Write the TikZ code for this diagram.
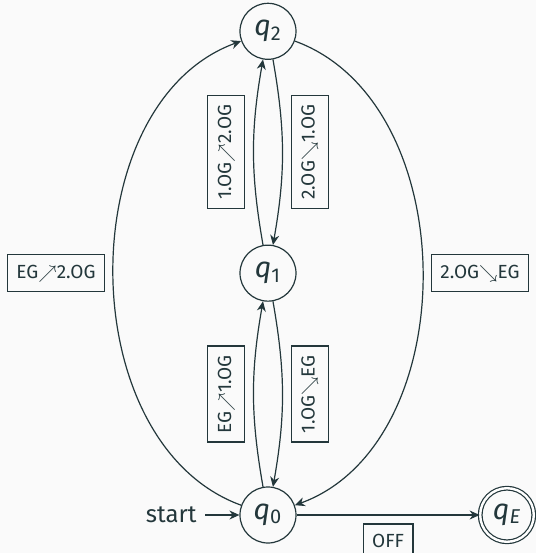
\documentclass[tikz,border=0pt,12pt]{standalone}
\usepackage{fontspec}
\setmainfont{Fira Sans}
\usetikzlibrary{arrows.meta}
\definecolor{mteal}{HTML}{23373B}
\definecolor{mbg}{HTML}{FAFAFA}

\begin{document}
\begin{tikzpicture}[>={Stealth[length=5pt, width=4.5pt]}, line width=0.6pt, draw=mteal, text=mteal,
    state/.style={circle, draw, minimum size=28pt, inner sep=0pt, font=\large},
    lbl/.style={draw, font=\fontsize{9.5}{11}\selectfont, inner xsep=4.5pt, inner ysep=5pt, outer sep=4.5pt}]

    \useasboundingbox[fill=mbg] (-134pt,-19pt) rectangle (134pt,257.5pt);

    \node[state] (q0) at (0, 0) {\textit{q}\textsubscript{0}};
    \node[state] (q1) at (0, 4.25) {\textit{q}\textsubscript{1}};
    \node[state] (q2) at (0, 8.5) {\textit{q}\textsubscript{2}};
    \node[state, double, double distance=1.2pt, minimum size=26.8pt] (qE) at (4.2, 0) {\textit{q}\textsubscript{\textit{E}}};
    \node (start) at (-1.7, 0) {start};

    \draw [->] (start) -- (q0);
    \draw [->] (q0) to[bend left=10] node[lbl, rotate=90, anchor=south] {EG$\nearrow$1.OG} (q1);
    \draw [->] (q1) to[bend left=10] node[lbl, rotate=90, anchor=north] {1.OG$\searrow$EG} (q0);
    \draw [->] (q1) to[bend left=10] node[lbl, rotate=90, anchor=south] {1.OG$\nearrow$2.OG} (q2);
    \draw [->] (q2) to[bend left=10] node[lbl, rotate=90, anchor=north] {2.OG$\searrow$1.OG} (q1);
    \draw [->] (q0) to[bend left=70] node[lbl, left] {EG$\nearrow$2.OG} (q2);
    \draw [->] (q2) to[bend left=70] node[lbl, right] {2.OG$\searrow$EG} (q0);
    \draw [->] (q0) to node[lbl, below] {OFF} (qE);

  \end{tikzpicture}
\end{document}
